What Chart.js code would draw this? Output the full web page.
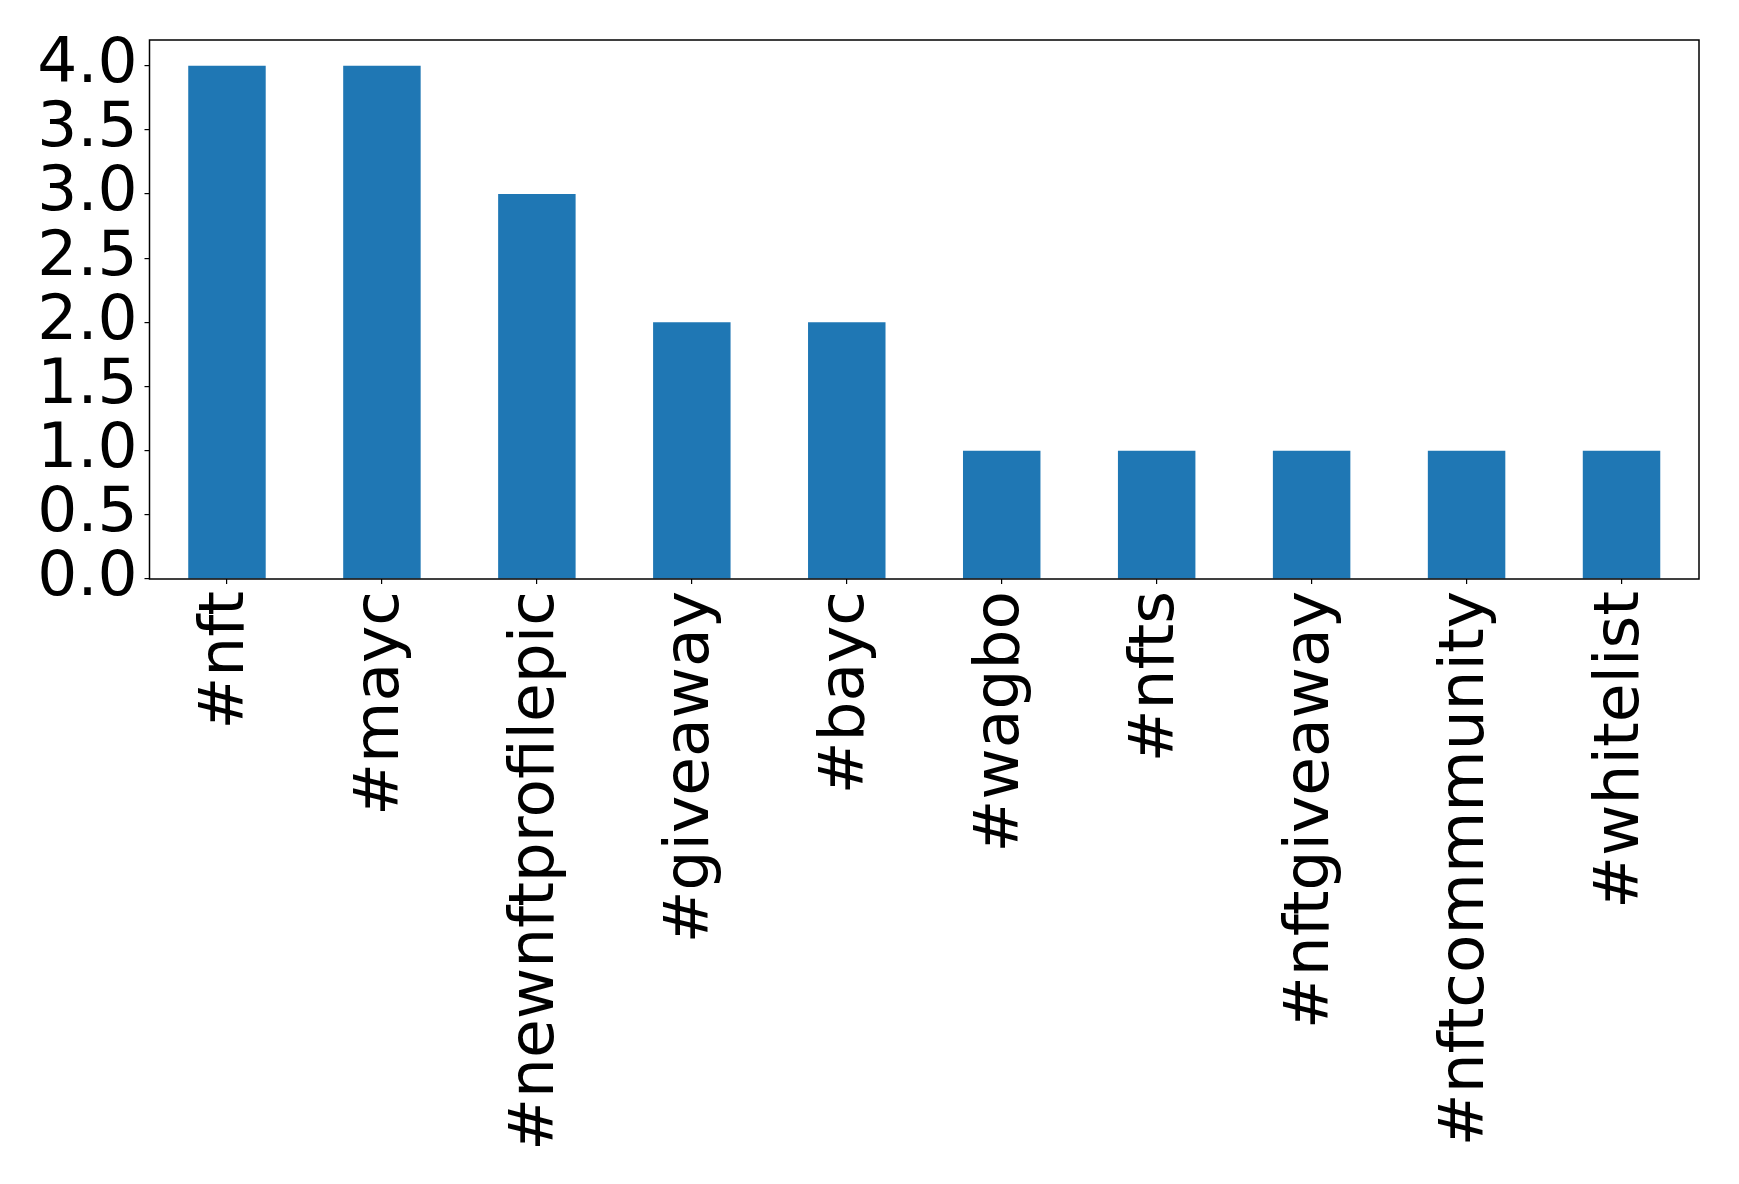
<!DOCTYPE html>
<html>
<head>
<meta charset="utf-8">
<script src="https://cdn.jsdelivr.net/npm/chart.js@4/dist/chart.umd.min.js"></script>
<style>
html,body{margin:0;padding:0;background:#fff;}
canvas{display:block;}
</style>
</head>
<body>
<canvas id="c" width="1739" height="1184"></canvas>
<script>
const categories = ["#nft","#mayc","#newnftprofilepic","#giveaway","#bayc","#wagbo","#nfts","#nftgiveaway","#nftcommmunity","#whitelist"];
const counts = [4,4,3,2,2,1,1,1,1,1];
const yTicks = [0,0.5,1,1.5,2,2.5,3,3.5,4];

const frame = {
  id: 'frame',
  afterDatasetsDraw(chart) {
    const a = chart.chartArea, ctx = chart.ctx;
    ctx.save();
    ctx.strokeStyle = '#000';
    ctx.lineWidth = 1.5;
    ctx.strokeRect(a.left, a.top, a.right - a.left, a.bottom - a.top);
    ctx.restore();
  }
};

new Chart(document.getElementById('c'), {
  type: 'bar',
  data: {
    labels: categories,
    datasets: [{ data: counts, backgroundColor: '#1f77b4', borderWidth: 0, barPercentage: 0.5, categoryPercentage: 1.0 }]
  },
  plugins: [frame],
  options: {
    responsive: false,
    animation: false,
    layout: { padding: { top: 40, right: 40, left: 0, bottom: 0 } },
    plugins: { legend: { display: false }, tooltip: { enabled: false } },
    scales: {
      x: {
        afterFit(s) { s.height = 605; },
        grid: { display: true, offset: false, drawOnChartArea: false, drawTicks: true, tickLength: 5, color: '#000', lineWidth: 1.2 },
        border: { display: false },
        ticks: { color: '#000', font: { family: 'DejaVu Sans', size: 63, lineHeight: 1 }, minRotation: 90, maxRotation: 90, padding: 7, autoSkip: false }
      },
      y: {
        min: 0, max: 4.2,
        afterFit(s) { s.width = 149.5; },
        afterBuildTicks(s) { s.ticks = yTicks.map(v => ({ value: v })); },
        grid: { display: true, drawOnChartArea: false, drawTicks: true, tickLength: 5, color: '#000', lineWidth: 1.2 },
        border: { display: false },
        ticks: { color: '#000', font: { family: 'DejaVu Sans', size: 63, lineHeight: 1 }, padding: 7, autoSkip: false, callback: v => Number(v).toFixed(1) }
      }
    }
  }
});
</script>
</body>
</html>
